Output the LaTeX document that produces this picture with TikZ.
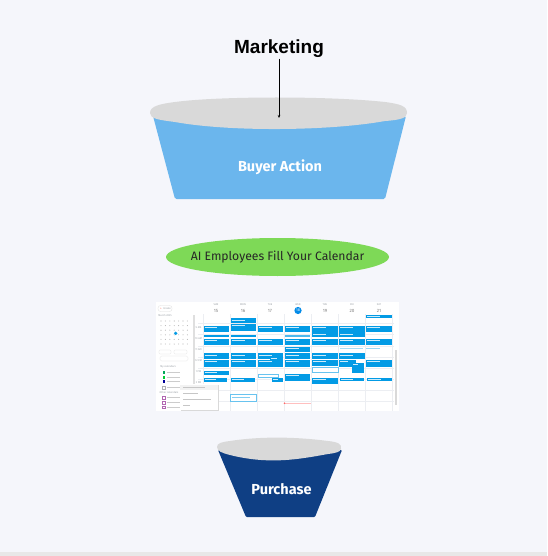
\documentclass[tikz,border=0pt]{standalone}
\usepackage{fontspec}
\setmainfont{Fira Sans}
\newfontfamily\arialfont{Liberation Sans}
\usetikzlibrary{arrows.meta}
\definecolor{bgc}{HTML}{F5F6FB}
\definecolor{capgray}{HTML}{D9D9D9}
\definecolor{topblue}{HTML}{6BB6ED}
\definecolor{darkblue}{HTML}{0F3F84}
\definecolor{leaf}{HTML}{7ED957}
\definecolor{evblue}{HTML}{039BE5}
\definecolor{gridc}{HTML}{ECEEF2}
\definecolor{txtgray}{HTML}{9AA0A6}
\tikzset{
  ev/.style={fill=evblue},
  evl/.style={draw=evblue!60,line width=0.3pt,fill=white},
  tiny/.style={font=\fontsize{2.6}{3}\selectfont,text=txtgray,inner sep=0pt},
  wtxt/.style={text=white,font=\bfseries\fontsize{14.5}{16}\selectfont},
}
\newcommand{\evbox}[4]{\fill[ev] (#1,#2) rectangle (#3,#4);
  \draw[white!80!evblue,line width=0.35pt] (#1+1.2,#2+1.6) -- (#1+0.55*#3-0.55*#1,#2+1.6);}
\begin{document}
\begin{tikzpicture}[x=1pt,y=-1pt]
\useasboundingbox (0,0) rectangle (547,556);
\fill[bgc] (0,0) rectangle (547,556);
\fill[gray!18] (0,552) rectangle (547,556);

% ---------- top funnel ----------
\fill[topblue,rounded corners=1.5pt] (153,116) -- (175,199) -- (385,199) -- (406,116) -- cycle;
\fill[capgray] (150,113) .. controls (150,106) and (160,104) .. (175,102)
  .. controls (220,96) and (330,96) .. (385,102)
  .. controls (400,104) and (407,106) .. (407,113)
  .. controls (407,118) and (400,120) .. (385,121)
  .. controls (330,131) and (230,132) .. (175,122)
  .. controls (160,120) and (150,119) .. (150,113) -- cycle;
\node[wtxt] (buyer) at (280,167) {Buyer Action};
\node[font=\arialfont\bfseries\fontsize{19}{22}\selectfont,inner sep=1pt] (mkt) at (279,48.5) {Marketing};
\coordinate (captop) at (279,118);
\draw[-{Stealth[length=3pt,width=2.5pt]},line width=0.7pt] (mkt.south) -- (captop);

% ---------- green ellipse ----------
\fill[leaf] (277.5,257) ellipse [x radius=111.5, y radius=19];
\node[font=\fontsize{12.2}{14}\selectfont,text=black!85] (ai) at (277.5,257.5) {AI Employees Fill Your Calendar};

% ---------- calendar screenshot ----------
\fill[white] (156,302) rectangle (399,411);
% grid
\foreach \x in {203,230,257,284,311,338,365,392} \draw[gridc,line width=0.4pt] (\x,314) -- (\x,411);
\foreach \y in {323,334,346,357,368,379,390,401} \draw[gridc,line width=0.4pt] (198,\y) -- (394,\y);
% header
\foreach \x/\d/\n in {216/SUN/15,243/MON/16,270/TUE/17,325/THU/19,352/FRI/20,379/SAT/21}{
  \node[tiny] at (\x,305) {\d};
  \node[tiny,font=\fontsize{4.6}{5}\selectfont,text=gray] at (\x,310.5) {\n};}
\node[tiny] at (298,305) {WED};
\fill[evblue!90!blue] (298,310.5) circle (3.6);
\node[tiny,text=white,font=\fontsize{3.8}{5}\selectfont] at (298,310.5) {18};
% scrollbars
\fill[gray!25] (193,315) rectangle (194.5,411);
\fill[gray!30] (395,350) rectangle (396.5,405);
% time labels
\foreach \y/\t in {328/9 AM,339/10 AM,350/11 AM,361/12 PM,372/1 PM,383/2 PM} \node[tiny] at (198.5,\y) {\t};
% sidebar
\fill[white,draw=gray!25,line width=0.3pt,rounded corners=2.5pt] (158,305.5) rectangle (172,311.5);
\node[tiny,text=red!70!orange] at (161,308.5) {+};
\node[tiny] at (167,308.5) {Create};
\node[tiny] at (165,316) {March 2025};
\foreach \i in {0,...,6} \foreach \j in {0,...,5}
  \fill[gray!55] (161+\i*4.4,321+\j*4.6) circle (0.55);
\fill[evblue] (175.7,333.3) circle (1.8);
\fill[white,draw=gray!25,line width=0.3pt,rounded corners=1pt] (159,350) rectangle (171,354);
\fill[white,draw=gray!25,line width=0.3pt,rounded corners=1pt] (174,350) rectangle (187,354);
\fill[white,draw=gray!25,line width=0.3pt,rounded corners=1.5pt] (160,356) rectangle (188,361);
\node[tiny] at (168,367) {My calendars};
\foreach \y/\c in {372.3/teal!70!green,377.3/green!60!teal,381.7/blue!60!black} \fill[\c] (162.5,\y-1.4) rectangle (165.3,\y+1.4);
\draw[gray!60,line width=0.3pt] (162.5,386) rectangle (165.3,388.8);
\foreach \y in {372.3,377.3,381.7,387.3} \fill[gray!40] (167,\y-0.4) rectangle (180,\y+0.4);
\node[tiny] at (169,392.7) {Other calendars};
\foreach \y in {397.7,402.7,407.3} {\draw[violet!60,line width=0.3pt] (162.5,\y-1.3) rectangle (165.3,\y+1.3);
  \fill[gray!40] (167,\y-0.4) rectangle (180,\y+0.4);}
% popup menu
\fill[gray!30] (180.7,384.8) rectangle (219,410.8);
\fill[white] (180.2,384.2) rectangle (218.3,410);
\fill[gray!10] (180.2,384.5) rectangle (218.3,390);
\foreach \y/\w in {387.3/205,393/198,399/211,405/190} \fill[gray!45] (183,\y-0.45) rectangle (\w,\y+0.45);

% events
% col1
\evbox{203.5}{325.7}{228.5}{331.7}
\fill[evblue] (203.5,335) rectangle (228.5,336.7);
\evbox{203.5}{339}{228.5}{345}
\evbox{203.5}{353.3}{228.5}{359}
\evbox{203.5}{360}{228.5}{366.7}
\evbox{203.5}{371}{228.5}{375}
\evbox{203.5}{377.7}{227}{382.3}
% col2
\evbox{230.5}{318.3}{256}{323}
\evbox{230.5}{324}{256}{331}
\fill[evblue] (230.5,335) rectangle (256,336.7);
\evbox{230.5}{339}{256}{345}
\evbox{230.5}{353.3}{256}{359}
\evbox{230.5}{360}{256}{366.7}
\evbox{231}{378}{255}{382}
\draw[evl] (230.5,394.5) rectangle (256,401);
\fill[evblue!50] (232,396.5) rectangle (250,397);
% col3
\evbox{257.5}{325.7}{283}{331.7}
\evbox{257.5}{339}{283}{345}
\evbox{257.5}{353.3}{283}{359}
\evbox{270}{357}{283}{361}
\evbox{257.5}{360}{283}{366.7}
\draw[evl] (258,374) rectangle (278,377.5);
\evbox{272}{378}{283}{382}
% col4
\evbox{284.5}{325.7}{310}{331.7}
\fill[evblue!70] (284.5,335) rectangle (310,336.7);
\evbox{284.5}{339}{310}{345}
\evbox{284.5}{347}{310}{352}
\evbox{284.5}{353.3}{310}{359}
\evbox{284.5}{360}{310}{366.7}
\evbox{285}{374}{310}{380.5}
\fill[red!25] (284.5,402.8) rectangle (311,403.6);
\fill[red!60] (284.5,403.2) circle (0.9);
% col5
\evbox{312}{325.7}{337.5}{331.7}
\evbox{312}{332.3}{337.5}{337.3}
\evbox{312}{339}{337.5}{345}
\evbox{312}{353.3}{337.5}{359}
\evbox{312}{360}{337.5}{366}
\draw[evl] (312,367) rectangle (338,372.3);
\evbox{312}{378}{337.5}{384}
% col6
\evbox{339}{325.7}{364.5}{331.7}
\evbox{339}{332.3}{364.5}{337.3}
\evbox{339}{339}{364.5}{345}
\fill[evblue!35] (340,347.5) rectangle (363,348.3);
\evbox{339}{353.3}{364.5}{359}
\evbox{339}{360}{356}{366.7}
\fill[white] (351.5,362.5) rectangle (364,373.5);
\evbox{352}{363}{363.5}{373}
\evbox{340}{378}{363.5}{380.5}
% col7
\evbox{366}{315}{391.5}{317.7}
\evbox{366}{325.7}{391.5}{331.7}
\evbox{366}{339}{391.5}{345}
\fill[evblue!40] (366,347.5) rectangle (380,348.3);
\evbox{366}{360}{391.5}{366.7}
\evbox{367}{378}{392}{380.5}

% ---------- bottom funnel ----------
\fill[darkblue,rounded corners=1pt] (218,450) -- (246,517) -- (315,517) -- (342,450) -- cycle;
\fill[capgray] (217,447) .. controls (217,443) and (222,442) .. (230,441)
  .. controls (255,437) and (290,436) .. (328,441)
  .. controls (338,442) and (342,444) .. (341,449)
  .. controls (340,452) and (336,453) .. (328,454)
  .. controls (300,459) and (270,465) .. (230,455)
  .. controls (222,453) and (217,451) .. (217,447) -- cycle;
\node[wtxt] (purchase) at (281.5,489) {Purchase};
\end{tikzpicture}
\end{document}
